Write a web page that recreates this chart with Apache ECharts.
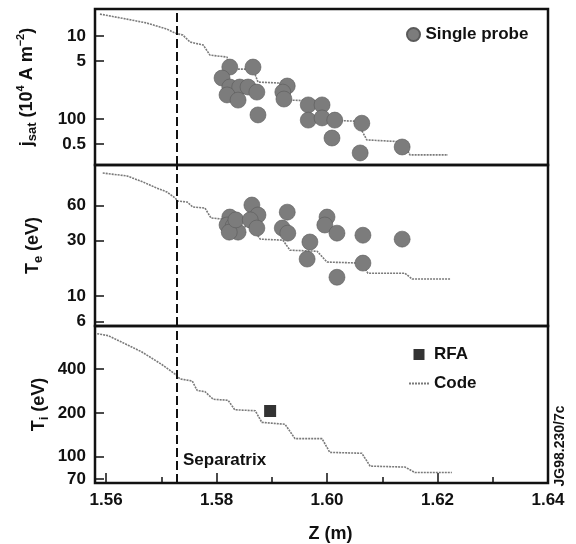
<!DOCTYPE html>
<html>
<head>
<meta charset="UTF-8">
<script src="https://cdn.jsdelivr.net/npm/echarts@6/dist/echarts.min.js"></script>
<style>
    html, body { margin: 0; padding: 0; background: #fff; }
    #main { width: 576px; height: 544px; }
</style>
</head>
<body>
<div id="main"></div>
<script>
    // x axis (Z in m)
    var zTicks = [1.56, 1.58, 1.60, 1.62, 1.64];
    var zMinorTicks = [1.57, 1.59, 1.61, 1.63];
    var separatrixZ = 1.5728;

    // y tick labels (as printed in the figure)
    var jsatTicks = [0.5, 1, 5, 10];
    var jsatTickLabels = ['0.5', '100', '5', '10'];
    var teTicks = [6, 10, 30, 60];
    var tiTicks = [70, 100, 200, 400];

    // single probe data
    var jsatProbe = [
        [1.5824, 4.23], [1.5866, 4.23], [1.5810, 3.12], [1.5824, 2.43], [1.5842, 2.43],
        [1.5857, 2.43], [1.5873, 2.11], [1.5819, 1.95], [1.5839, 1.69], [1.5875, 1.12],
        [1.5928, 2.50], [1.5920, 2.11], [1.5922, 1.74], [1.5966, 1.48], [1.5991, 1.48],
        [1.5966, 0.97], [1.5991, 1.03], [1.6014, 0.97], [1.6063, 0.89], [1.6009, 0.59],
        [1.6060, 0.39], [1.6136, 0.46]
    ];
    var teProbe = [
        [1.5824, 47.9], [1.5819, 40.9], [1.5830, 40.1], [1.5839, 35.5], [1.5823, 35.5],
        [1.5835, 45.3], [1.5864, 60.8], [1.5875, 49.9], [1.5861, 45.3], [1.5873, 38.5],
        [1.5928, 52.8], [1.5919, 38.5], [1.5929, 34.8], [1.6000, 47.9], [1.5996, 40.9],
        [1.6018, 34.8], [1.5969, 29.2], [1.5964, 20.8], [1.6065, 33.4], [1.6065, 19.2],
        [1.6018, 14.5], [1.6136, 30.9]
    ];
    // RFA
    var tiRfa = [[1.5897, 206]];

    // code results
    var jsatCode = [
        [1.5589, 18.4], [1.5638, 16.0], [1.5674, 14.35], [1.5710, 12.14], [1.5725, 10.87],
        [1.5739, 10.28], [1.5752, 8.47], [1.5776, 7.79], [1.5788, 5.90], [1.5819, 5.58],
        [1.5824, 4.00], [1.5866, 4.00], [1.5875, 2.79], [1.5915, 2.71], [1.5928, 1.69],
        [1.5993, 1.65], [1.6002, 0.97], [1.6054, 0.94], [1.6072, 0.56], [1.6138, 0.53],
        [1.6150, 0.37], [1.6219, 0.37]
    ];
    var teCode = [
        [1.5594, 114.8], [1.5638, 108.3], [1.5667, 96.1], [1.5692, 85.0], [1.5710, 78.9],
        [1.5725, 69.9], [1.5730, 65.8], [1.5747, 64.5], [1.5757, 58.5], [1.5779, 57.3],
        [1.5790, 47.0], [1.5810, 46.1], [1.5821, 40.1], [1.5864, 39.3], [1.5879, 30.9],
        [1.5920, 30.3], [1.5933, 24.8], [1.5982, 24.3], [1.6000, 19.6], [1.6063, 19.2],
        [1.6074, 15.7], [1.6141, 15.7], [1.6154, 14.0], [1.6223, 14.0]
    ];
    var tiCode = [
        [1.5584, 700], [1.5604, 679], [1.5640, 583], [1.5665, 524], [1.5701, 430],
        [1.5725, 369], [1.5734, 342], [1.5756, 331], [1.5765, 285], [1.5779, 280],
        [1.5794, 248], [1.5821, 244], [1.5833, 210], [1.5870, 207], [1.5882, 172],
        [1.5924, 167], [1.5942, 133], [1.5991, 133], [1.6005, 107], [1.6063, 105.5],
        [1.6078, 86.1], [1.6141, 84.8], [1.6159, 77.9], [1.6226, 77.9]
    ];

    var font = "'Liberation Sans', Arial, Helvetica, sans-serif";
    var chart = echarts.init(document.getElementById('main'));

    var xMin = 1.558, xMax = 1.64;
    var grids = [
        {left: 95, top: 9, width: 453, height: 156},
        {left: 95, top: 165, width: 453, height: 161},
        {left: 95, top: 326, width: 453, height: 163}
    ];
    grids.forEach(function (g) {
        g.show = true;
        g.borderColor = '#111';
        g.borderWidth = 2.5;
        g.backgroundColor = 'transparent';
    });

    function hiddenX(i) {
        return {
            type: 'value', gridIndex: i, min: xMin, max: xMax,
            axisLine: {show: false}, axisTick: {show: false},
            axisLabel: {show: false}, splitLine: {show: false}
        };
    }

    var nameRich = {
        t: {fontFamily: font, fontWeight: 'bold', fontSize: 18, lineHeight: 24, color: '#111'},
        sub: {fontFamily: font, fontWeight: 'bold', fontSize: 13, lineHeight: 24, verticalAlign: 'bottom', color: '#111'},
        sup: {fontFamily: font, fontWeight: 'bold', fontSize: 11, lineHeight: 12, verticalAlign: 'top', color: '#111'}
    };

    function logY(i, min, max, ticks, labels, name, gap) {
        return {
            type: 'log', logBase: 10, gridIndex: i, min: min, max: max,
            name: name, nameLocation: 'middle', nameRotate: 90, nameGap: gap,
            nameMoveOverlap: false,
            nameTextStyle: {rich: nameRich},
            axisLine: {show: false},
            axisTick: {show: true, inside: true, length: 9, customValues: ticks,
                lineStyle: {color: '#111', width: 1.5}},
            axisLabel: {
                customValues: ticks, margin: 9,
                fontFamily: font, fontWeight: 'bold', fontSize: 17, color: '#111',
                formatter: function (v) {
                    for (var k = 0; k < ticks.length; k++) {
                        if (Math.abs(ticks[k] - v) / ticks[k] < 1e-6) return labels ? labels[k] : String(ticks[k]);
                    }
                    return '';
                }
            },
            splitLine: {show: false}
        };
    }

    var codeStyle = {color: '#7a7a7a', width: 1.6, type: [2, 1]};
    var probeStyle = {color: '#7c7c7c', borderColor: '#5a5a5a', borderWidth: 0.6, opacity: 1};
    var sepLine = {
        silent: true, symbol: ['none', 'none'], label: {show: false}, precision: 5,
        lineStyle: {color: '#111', width: 2, type: [9, 4]},
        emphasis: {disabled: true},
        data: [{xAxis: separatrixZ}]
    };

    var option = {
        animation: false,
        backgroundColor: '#fff',
        grid: grids,
        xAxis: [
            hiddenX(0),
            hiddenX(1),
            {
                type: 'value', gridIndex: 2, min: xMin, max: xMax,
                name: 'Z (m)', nameLocation: 'middle', nameGap: 42,
                nameTextStyle: {fontFamily: font, fontWeight: 'bold', fontSize: 18, color: '#111', padding: [0, 0, 0, 18]},
                axisLine: {show: false},
                axisTick: {show: true, inside: true, length: 10, customValues: zTicks,
                    lineStyle: {color: '#111', width: 1.5}},
                axisLabel: {customValues: zTicks, margin: 9, fontFamily: font, fontWeight: 'bold',
                    fontSize: 17, color: '#111', formatter: function (v) { return v.toFixed(2); }},
                splitLine: {show: false}
            },
            {
                type: 'value', gridIndex: 2, min: xMin, max: xMax, position: 'bottom',
                axisLine: {show: false},
                axisTick: {show: true, inside: true, length: 6, customValues: zMinorTicks,
                    lineStyle: {color: '#111', width: 1.5}},
                axisLabel: {show: false}, splitLine: {show: false}
            }
        ],
        yAxis: [
            logY(0, 0.279, 21.2, jsatTicks, jsatTickLabels,
                '{t|j}{sub|sat}{t| (10}{sup|4}{t| A m}{sup|−2}{t|)}', 56),
            logY(1, 5.51, 134.6, teTicks, null, '{t|T}{sub|e}{t| (eV)}', 50),
            logY(2, 65.9, 791, tiTicks, null, '{t|T}{sub|i}{t| (eV)}', 44)
        ],
        legend: [
            {
                data: ['Single probe'], left: 406, top: 26, padding: 0,
                itemWidth: 14, itemHeight: 13, itemGap: 6, selectedMode: false,
                textStyle: {fontFamily: font, fontWeight: 'bold', fontSize: 17, color: '#111'}
            },
            {
                data: [
                    {name: 'RFA', icon: 'path://M0,0h10v10h-10z'},
                    {name: 'Code', itemStyle: {opacity: 0}}
                ],
                left: 408, top: 346, padding: 0, orient: 'vertical',
                itemWidth: 20, itemHeight: 11, itemGap: 12, selectedMode: false,
                textStyle: {fontFamily: font, fontWeight: 'bold', fontSize: 17, color: '#111'}
            }
        ],
        graphic: [
            {
                type: 'text', left: 183, top: 452,
                style: {text: 'Separatrix', fontFamily: font, fontWeight: 'bold', fontSize: 17, fill: '#111'}
            },
            {
                type: 'text', x: 567, y: 446, rotation: Math.PI / 2,
                style: {text: 'JG98.230/7c', fontFamily: font, fontWeight: 'bold', fontSize: 14,
                    fill: '#111', align: 'center', verticalAlign: 'bottom'}
            }
        ],
        series: [
            {name: 'Code', type: 'line', xAxisIndex: 0, yAxisIndex: 0, data: jsatCode,
                symbol: 'none', lineStyle: codeStyle, itemStyle: {color: '#7a7a7a'}, z: 2, markLine: sepLine},
            {name: 'Single probe', type: 'scatter', xAxisIndex: 0, yAxisIndex: 0, data: jsatProbe,
                symbol: 'circle', symbolSize: 16, itemStyle: probeStyle, z: 3},
            {name: 'Code', type: 'line', xAxisIndex: 1, yAxisIndex: 1, data: teCode,
                symbol: 'none', lineStyle: codeStyle, itemStyle: {color: '#7a7a7a'}, z: 2, markLine: sepLine},
            {name: 'Single probe', type: 'scatter', xAxisIndex: 1, yAxisIndex: 1, data: teProbe,
                symbol: 'circle', symbolSize: 16, itemStyle: probeStyle, z: 3},
            {name: 'Code', type: 'line', xAxisIndex: 2, yAxisIndex: 2, data: tiCode,
                symbol: 'none', lineStyle: codeStyle, itemStyle: {color: '#7a7a7a'}, z: 2, markLine: sepLine},
            {name: 'RFA', type: 'scatter', xAxisIndex: 2, yAxisIndex: 2, data: tiRfa,
                symbol: 'rect', symbolSize: 12, itemStyle: {color: '#333', opacity: 1}, z: 3}
        ]
    };
    chart.setOption(option);
</script>
</body>
</html>
